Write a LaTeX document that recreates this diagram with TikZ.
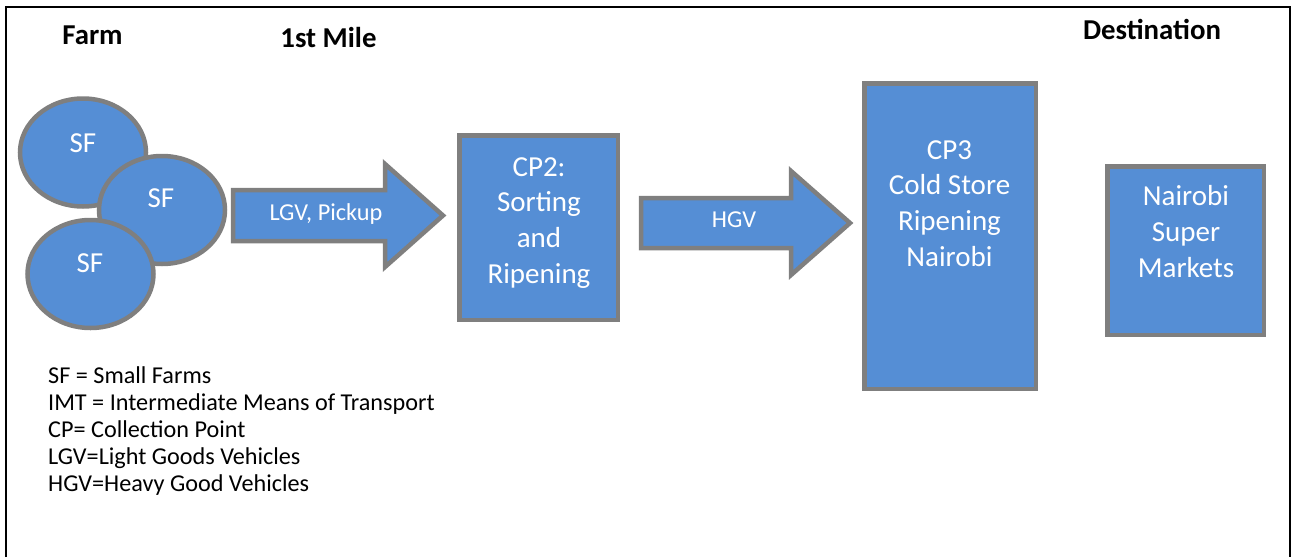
\documentclass[tikz,border=0pt]{standalone}
\usepackage{fontspec}
\setmainfont{Carlito}
\usetikzlibrary{shapes.geometric}
\definecolor{boxblue}{RGB}{85,142,213}
\definecolor{boxgray}{RGB}{127,127,127}
\begin{document}
\begin{tikzpicture}[x=1pt,y=-1pt,
  solid shape/.style={fill=boxblue,draw=boxgray,line width=4.5pt},
  farm/.style={solid shape,ellipse,inner sep=0pt,minimum width=126pt,minimum height=108pt},
  stage/.style={solid shape,rectangle,inner sep=0pt},
  shapetext/.style={text=white,inner sep=0pt,font=\fontsize{29}{35.7}\selectfont},
  blocktext/.style={shapetext,align=center,anchor=north},
  arrowtext/.style={text=white,inner sep=0pt,anchor=base,font=\fontsize{24.3}{28}\selectfont},
  heading/.style={inner sep=0pt,anchor=base,font=\fontsize{28.8}{34}\selectfont\bfseries},
  legend/.style={inner sep=0pt,anchor=base west,font=\fontsize{24.2}{27}\selectfont}]
\useasboundingbox (0,0) rectangle (1295,557);

% page frame, open at the bottom
\draw[line width=2pt] (6,557) -- (6,7) -- (1290,7) -- (1290,557);

% column headings
\node[heading] (hfarm) at (92.5,44.3) {Farm};
\node[heading] (hmile) at (328.5,47.3) {1st Mile};
\node[heading] (hdest) at (1152,39.5) {Destination};

% small farms
\node[farm] (sf1) at (83,152.5) {};
\node[shapetext,anchor=base] (sf1t) at (83,152) {SF};
\node[farm] (sf2) at (162,210) {};
\node[shapetext,anchor=base] (sf2t) at (161,207) {SF};
\node[farm] (sf3) at (90.5,274) {};
\node[shapetext,anchor=base] (sf3t) at (90,272) {SF};

% block arrow: farms to CP2
\draw[solid shape] (233,190) -- (385,190) -- (385,164) -- (443,215.5)
  -- (385,267) -- (385,241) -- (233,241) -- cycle;
\node[arrowtext] (lgv) at (326,220) {LGV, Pickup};

% CP2
\node[stage,minimum width=158.5pt,minimum height=184.5pt] (cp2) at (538.5,227.5) {};
\node[blocktext] (cp2t) at (539,157) {CP2:\\Sorting\\and\\Ripening};

% block arrow: CP2 to CP3
\draw[solid shape] (641,198) -- (791,198) -- (791,171) -- (850,223)
  -- (791,275) -- (791,248) -- (641,248) -- cycle;
\node[arrowtext] (hgv) at (734,227) {HGV};

% CP3
\node[stage,minimum width=171.5pt,minimum height=305.5pt] (cp3) at (950,236) {};
\node[blocktext] (cp3t) at (949.5,140) {CP3\\Cold Store\\Ripening\\Nairobi};

% supermarkets
\node[stage,minimum width=156.5pt,minimum height=168.5pt] (market) at (1185.5,250.5) {};
\node[blocktext] (markett) at (1186,185.5) {Nairobi\\Super\\Markets};

% abbreviations
\node[legend] (leg1) at (48,383.5) {SF = Small Farms};
\node[legend] (leg2) at (48,410.5) {IMT = Intermediate Means of Transport};
\node[legend] (leg3) at (48,437.5) {CP= Collection Point};
\node[legend] (leg4) at (48,464.5) {LGV=Light Goods Vehicles};
\node[legend] (leg5) at (48,491.5) {HGV=Heavy Good Vehicles};
\end{tikzpicture}
\end{document}
